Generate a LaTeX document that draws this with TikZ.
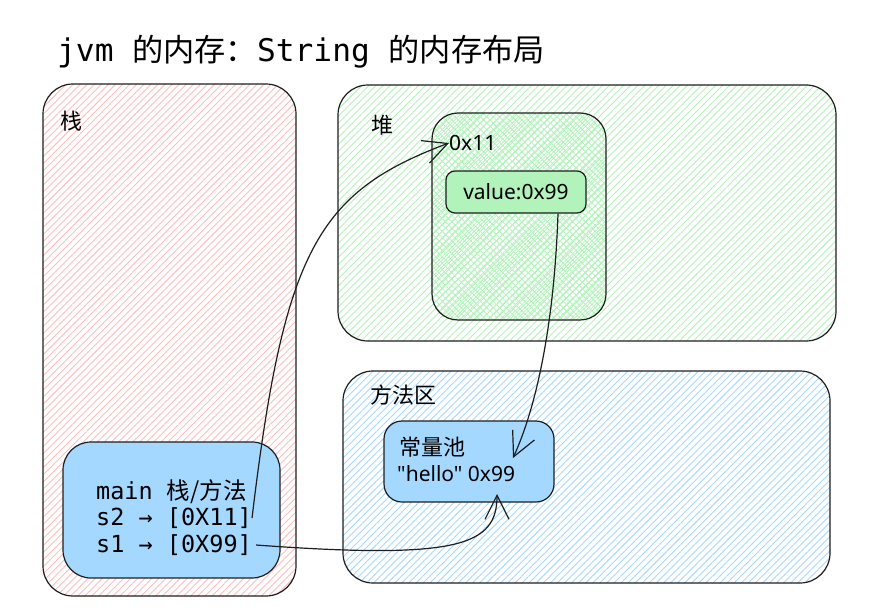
\documentclass[tikz,border=0pt]{standalone}
\usepackage{fontspec}
\setmainfont{Noto Sans}
\setmonofont{DejaVu Sans Mono}
\newfontfamily\cjk{Noto Sans CJK SC}
\newfontfamily\hand{Noto Sans}
\usepackage{xcolor}
\usepackage{tikz}
\usetikzlibrary{arrows.meta,patterns.meta}

\definecolor{stackred}{HTML}{FFBDBD}
\definecolor{heapgreen}{HTML}{B2F2BB}
\definecolor{areablue}{HTML}{A5D8FF}
\definecolor{ink}{HTML}{1E1E1E}

\begin{document}
\begin{tikzpicture}[x=1pt, y=-1pt,
  area/.style={draw=ink, line width=1.2pt, rounded corners=30pt, inner sep=0pt},
  hatched/.style={pattern={Lines[angle=45,distance=5pt,line width=0.9pt]}, pattern color=#1},
  cell/.style={draw=ink, line width=1.2pt, rounded corners=16pt, inner sep=0pt, fill=#1},
  areatitle/.style={anchor=west, inner sep=0pt, font=\cjk\fontsize{22}{26}\selectfont},
  handtext/.style={anchor=west, inner sep=0pt, font=\hand\fontsize{21}{25}\selectfont},
  codeline/.style={anchor=west, inner sep=0pt, font=\ttfamily\fontsize{23.5}{28}\selectfont},
  pointer/.style={draw=ink, line width=1.2pt,
    -{Straight Barb[length=24pt,width=24pt,line width=1.2pt]}}
]
  \useasboundingbox (0,0) rectangle (869,610);

  \node[anchor=west, inner sep=0pt, font=\ttfamily\fontsize{31.2}{36}\selectfont]
    (title) at (57,52) {jvm {\cjk 的内存：}String {\cjk 的内存布局}};

  \node[area, hatched=stackred, minimum width=253pt, minimum height=512pt]
    (stack) at (169.5,340) {};
  \node[area, hatched=heapgreen, minimum width=498pt, minimum height=256pt]
    (heap) at (587,213) {};
  \node[area, hatched=areablue, minimum width=487pt, minimum height=212pt]
    (method) at (586.5,477) {};

  \node[areatitle] (stacklbl) at (60,121) {栈};
  \node[areatitle] (heaplbl) at (371,125) {堆};
  \node[areatitle] (methodlbl) at (370,395) {方法区};

  \node[area, rounded corners=26pt, fill=white,
        pattern={Hatch[angle=45,distance=4.5pt,line width=0.8pt]}, pattern color=heapgreen,
        minimum width=174pt, minimum height=207pt]
    (obj) at (519,216.5) {};
  \node[handtext] (addr11) at (449,143) {0x11};
  \node[cell=heapgreen, rounded corners=9pt, minimum width=140pt, minimum height=42pt,
        font=\hand\fontsize{21}{25}\selectfont]
    (value) at (516,192) {value:0x99};

  \node[cell=areablue, rounded corners=18pt, minimum width=170pt, minimum height=81pt]
    (pool) at (469,461.5) {};
  \node[areatitle] (poollbl) at (399,447) {常量池};
  \node[handtext] (hello) at (397,474) {"hello" 0x99};
  \coordinate (addr99) at (513,458);
  \coordinate (addr99b) at (497,494);

  \node[cell=areablue, rounded corners=28pt, minimum width=217pt, minimum height=136pt]
    (main) at (171.5,510) {};
  \node[codeline] (mainlbl) at (96,492) {main {\cjk 栈/方法}};
  \node[codeline] (s2) at (96,518) {s2 → [0X11]};
  \node[codeline] (s1) at (96,545) {s1 → [0X99]};

  \draw[pointer] (s2.east) .. controls (284,250) and (318,192) .. (addr11.west);
  \draw[pointer] ([xshift=42pt]value.south) .. controls (554,330) and (535,410) .. (addr99);
  \draw[pointer] ([xshift=4pt]s1.east) .. controls (460,560) and (497,545) .. (addr99b);
\end{tikzpicture}
\end{document}
